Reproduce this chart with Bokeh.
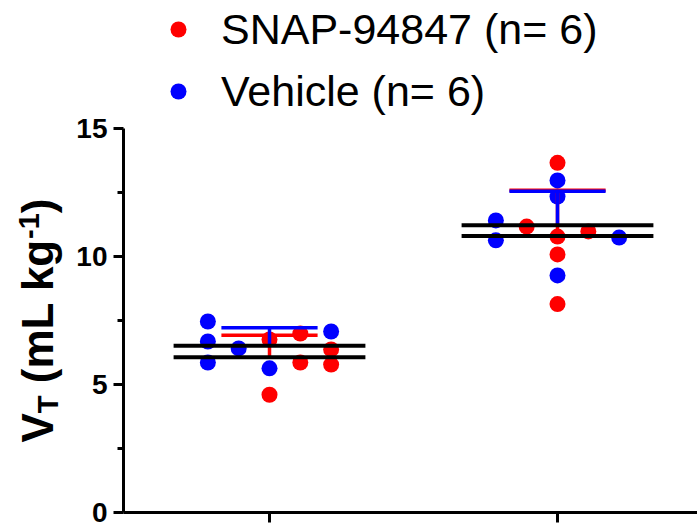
import numpy as np
from bokeh.plotting import figure
from bokeh.models import FixedTicker, Legend, LegendItem, Label
from bokeh.embed import file_html
from bokeh.resources import INLINE

# ---------------- data ----------------
group_pos = [1, 2]
snap_label = "SNAP-94847 (n= 6)"
veh_label = "Vehicle (n= 6)"
snap_g1 = [6.76, 4.60, 6.99, 5.86, 6.37, 5.78]
snap_g1_slot = [0, 0, 1, 1, 2, 2]
veh_g1 = [7.46, 6.68, 5.86, 6.41, 5.63, 7.07]
veh_g1_slot = [-2, -2, -2, -1, 0, 2]
snap_g2 = [13.66, 11.17, 10.78, 10.98, 10.08, 8.14]
snap_g2_slot = [0, -1, 0, 1, 0, 0]
veh_g2 = [12.97, 12.34, 11.41, 10.63, 10.74, 9.26]
veh_g2_slot = [0, 0, -2, -2, 2, 0]
y_ticks = [0, 5, 10, 15]
y_minor_ticks = [2.5, 7.5, 12.5]
y_axis_span = (0, 15)
x_axis_span = (0.493, 2.486)

RED = "#FF0000"
BLUE = "#0000FF"
SLOT_W = 0.107
FONT = "Liberation Sans"
W, H = 697, 527

p = figure(width=W, height=H, output_backend="svg", toolbar_location=None,
           x_range=(1 - 269 / 288, 1 + (W - 269) / 288),
           y_range=(-(H - 512) / 25.6, 512 / 25.6),
           min_border=0, min_border_left=0, min_border_right=0,
           min_border_top=0, min_border_bottom=0)
p.outline_line_color = None
p.xgrid.visible = False
p.ygrid.visible = False
p.background_fill_color = "white"
p.border_fill_color = "white"

def xs(center, slots):
    return [center + s * SLOT_W for s in slots]

snap_x = xs(group_pos[0], snap_g1_slot) + xs(group_pos[1], snap_g2_slot)
snap_y = snap_g1 + snap_g2
veh_x = xs(group_pos[0], veh_g1_slot) + xs(group_pos[1], veh_g2_slot)
veh_y = veh_g1 + veh_g2

r_snap = p.scatter(snap_x, snap_y, size=16, color=RED, line_width=0)
r_veh = p.scatter(veh_x, veh_y, size=16, color=BLUE, line_width=0)

def err(series_list, color):
    m = [float(np.mean(s)) for s in series_list]
    sd = [float(np.std(s, ddof=1)) for s in series_list]
    top = [a + b for a, b in zip(m, sd)]
    p.segment(x0=group_pos, y0=m, x1=group_pos, y1=top, line_color=color, line_width=3.5)
    p.segment(x0=[g - 0.167 for g in group_pos], y0=top,
              x1=[g + 0.167 for g in group_pos], y1=top, line_color=color, line_width=3.5)
    return m

m_snap = err([snap_g1, snap_g2], RED)
m_veh = err([veh_g1, veh_g2], BLUE)
for m in (m_snap, m_veh):
    p.segment(x0=[g - 0.333 for g in group_pos], y0=m,
              x1=[g + 0.333 for g in group_pos], y1=m, line_color="black", line_width=4)

# axes, placed inside the frame at fixed data locations
yax = p.yaxis[0]
xax = p.xaxis[0]
yax.fixed_location = x_axis_span[0]
xax.fixed_location = y_axis_span[0]
yax.bounds = y_axis_span
xax.bounds = x_axis_span
yax.ticker = FixedTicker(ticks=y_ticks, minor_ticks=y_minor_ticks)
xax.ticker = FixedTicker(ticks=group_pos, minor_ticks=[])
for ax in (xax, yax):
    ax.axis_line_width = 3
    ax.major_tick_line_width = 3
    ax.minor_tick_line_width = 3
    ax.axis_line_color = "black"
    ax.major_tick_line_color = "black"
    ax.minor_tick_line_color = "black"
    ax.major_tick_in = 0
    ax.minor_tick_in = 0
yax.major_tick_out = 10
yax.minor_tick_out = 6
yax.major_label_text_font = FONT
yax.major_label_text_font_style = "bold"
yax.major_label_text_font_size = "28px"
yax.major_label_text_color = "black"
yax.major_label_standoff = 6
xax.major_tick_out = 10
xax.major_label_text_font_size = "0px"
xax.major_label_standoff = 0
xax.major_label_overrides = {1: "", 2: ""}

# y-axis title built from pieces (subscript / superscript)
BIG = 44
SMALL = 29
base_x = 56
y0 = H - 442
pieces = [
    ("V", BIG, 0, 0.667 * BIG),
    ("T", SMALL, 4, 0.611 * SMALL + 0.278 * BIG),
    ("(mL kg", BIG, 0, 3.278 * BIG),
    ("-1", SMALL, -15, 0.889 * SMALL),
    (")", BIG, 0, 0.333 * BIG),
]
cur = y0
for txt, fs, dx, adv in pieces:
    p.add_layout(Label(x=base_x + dx - 0.43 * fs, y=cur, x_units="screen", y_units="screen",
                       text=txt, angle=np.pi / 2, text_font=FONT, text_font_style="bold",
                       text_font_size=f"{fs}px", text_color="black",
                       text_align="left", text_baseline="alphabetic"))
    cur += adv

legend = Legend(items=[LegendItem(label=snap_label, renderers=[r_snap]),
                       LegendItem(label=veh_label, renderers=[r_veh])],
                location=(178 - 20, H - 117), orientation="vertical",
                glyph_width=40, glyph_height=52, label_height=52, spacing=10,
                label_standoff=23, padding=0, margin=0,
                label_text_font=FONT, label_text_font_size="43px",
                label_text_color="black",
                background_fill_alpha=0, border_line_color=None)
p.add_layout(legend, "center")

open("out.html", "w").write(file_html(p, INLINE))
